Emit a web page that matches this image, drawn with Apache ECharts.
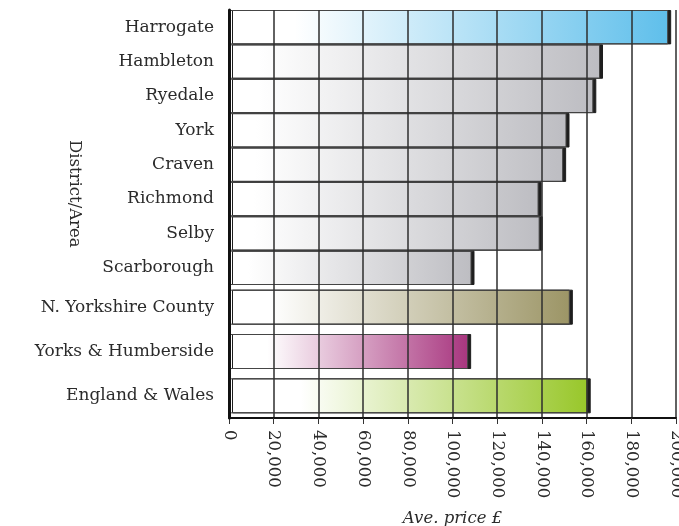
<!DOCTYPE html>
<html>
<head>
<meta charset="utf-8">
<script src="https://cdn.jsdelivr.net/npm/echarts@6/dist/echarts.min.js"></script>
<style>
  html, body { margin: 0; padding: 0; background: #fff; }
  #chart { width: 679px; height: 526px; }
</style>
</head>
<body>
<div id="chart"></div>
<script>
// Average house prices (£) by district, then regional comparisons
const districts = ['Harrogate', 'Hambleton', 'Ryedale', 'York', 'Craven', 'Richmond', 'Selby', 'Scarborough'];
const districtPrices = [196500, 166000, 163000, 151000, 149500, 138500, 139000, 108500];
const areas = ['N. Yorkshire County', 'Yorks & Humberside', 'England & Wales'];
const areaPrices = [152500, 107000, 160500];
const xTicks = [0, 20000, 40000, 60000, 80000, 100000, 120000, 140000, 160000, 180000, 200000];

const FONT = 'DejaVu Serif';
const TEXT = '#2b2b2b';
const GRID_LINE = '#2e2e2e';
const FONT_SIZE = 17;

// End colour of each bar's white-to-colour fade
const districtEnd = districtName => districtName === 'Harrogate' ? '#5fbfeb' : '#bdbdc2';
const areaEnd = { 'N. Yorkshire County': '#9c9566', 'Yorks & Humberside': '#a8367f', 'England & Wales': '#98c72a' };
const areaFadeStart = { 'N. Yorkshire County': 0.12, 'Yorks & Humberside': 0.16, 'England & Wales': 0.2 };

function fade(end, start) {
  return new echarts.graphic.LinearGradient(0, 0, 1, 0, [
    { offset: 0, color: '#ffffff' },
    { offset: start, color: '#ffffff' },
    { offset: 1, color: end }
  ]);
}

function barStyle(color) {
  return {
    color: color,
    borderColor: '#454545',
    borderWidth: 1,
    shadowColor: '#1e1e1e',
    shadowBlur: 0,
    shadowOffsetX: 3,
    shadowOffsetY: 0
  };
}

const fmt = v => v === 0 ? '0' : v.toString().replace(/\B(?=(\d{3})+(?!\d))/g, ',');

const valueAxisBase = {
  type: 'value',
  min: xTicks[0],
  max: xTicks[xTicks.length - 1],
  interval: xTicks[1] - xTicks[0],
  z: 5,
  splitLine: { show: true, lineStyle: { color: GRID_LINE, width: 1.5 } }
};

const catAxisBase = {
  type: 'category',
  inverse: true,
  axisLine: { show: true, lineStyle: { color: '#111', width: 3 } },
  axisTick: { show: false },
  z: 6,
  axisLabel: { fontFamily: FONT, fontSize: FONT_SIZE, color: TEXT, margin: 15 }
};

const chart = echarts.init(document.getElementById('chart'));
chart.setOption({
  animation: false,
  backgroundColor: '#ffffff',
  grid: [
    { left: 229, right: 3, top: 10, height: 275, outerBoundsMode: 'none', containLabel: false },
    { left: 229, right: 3, top: 285, height: 133, outerBoundsMode: 'none', containLabel: false }
  ],
  xAxis: [
    Object.assign({}, valueAxisBase, {
      gridIndex: 0,
      axisLine: { show: false },
      axisTick: { show: false },
      axisLabel: { show: false }
    }),
    Object.assign({}, valueAxisBase, {
      gridIndex: 1,
      axisLine: { show: true, lineStyle: { color: '#111', width: 2 } },
      axisTick: { show: true, length: 6, lineStyle: { color: '#333' } },
      axisLabel: {
        rotate: -90, margin: 12, fontFamily: FONT, fontSize: 16.5, color: TEXT,
        formatter: fmt
      },
      name: 'Ave. price £',
      nameLocation: 'middle',
      nameGap: 92,
      nameMoveOverlap: false,
      nameTextStyle: { fontFamily: FONT, fontStyle: 'italic', fontSize: 16.5, color: TEXT }
    })
  ],
  yAxis: [
    Object.assign({}, catAxisBase, { gridIndex: 0, data: districts }),
    Object.assign({}, catAxisBase, { gridIndex: 1, data: areas })
  ],
  graphic: [{
    type: 'text',
    left: 66,
    top: 140,
    rotation: -Math.PI / 2,
    style: { text: 'District/Area', fontFamily: FONT, fontSize: 16.5, fill: TEXT }
  }],
  series: [
    {
      type: 'bar',
      xAxisIndex: 0, yAxisIndex: 0,
      barWidth: '100%',
      data: districts.map((d, i) => ({
        value: districtPrices[i],
        itemStyle: barStyle(fade(districtEnd(d), d === 'Harrogate' ? 0.15 : 0.08))
      }))
    },
    {
      type: 'bar',
      xAxisIndex: 1, yAxisIndex: 1,
      barWidth: 35,
      data: areas.map((a, i) => ({
        value: areaPrices[i],
        itemStyle: barStyle(fade(areaEnd[a], areaFadeStart[a]))
      }))
    }
  ]
});
</script>
</body>
</html>
